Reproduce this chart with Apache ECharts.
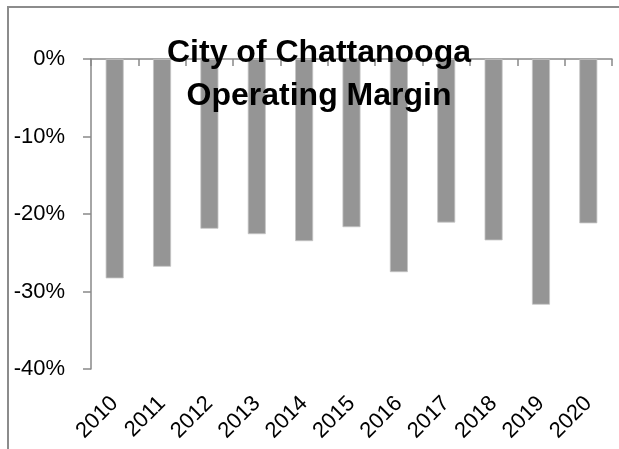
<!DOCTYPE html>
<html>
<head>
<meta charset="utf-8">
<script src="https://cdn.jsdelivr.net/npm/echarts@6/dist/echarts.min.js"></script>
<style>
  html, body { margin: 0; padding: 0; background: #fff; }
  #chart { width: 619px; height: 449px; }
</style>
</head>
<body>
<div id="chart"></div>
<script>
  // years on the x axis
  var years = ['2010', '2011', '2012', '2013', '2014', '2015', '2016', '2017', '2018', '2019', '2020'];
  // operating margin, percent
  var margin = [-28.3, -26.8, -21.9, -22.6, -23.5, -21.7, -27.5, -21.1, -23.4, -31.7, -21.2];

  var axisGray = '#898989';
  var myChart = echarts.init(document.getElementById('chart'));
  var option = {
    backgroundColor: '#fff',
    animation: false,
    title: {
      text: 'City of Chattanooga\nOperating Margin',
      left: 314,
      top: 27,
      textAlign: 'center',
      textStyle: {
        fontFamily: 'Liberation Sans',
        fontWeight: 'bold',
        fontSize: 32,
        lineHeight: 43,
        color: '#000'
      }
    },
    graphic: [{
      // chart frame, only top and left edges visible
      type: 'rect',
      shape: { x: 8, y: 7, width: 700, height: 600 },
      style: { fill: 'none', stroke: '#8c8c8c', lineWidth: 2 },
      silent: true
    }],
    grid: { left: 91, right: 7, top: 59, bottom: 80 },
    xAxis: [{
      type: 'category',
      data: years,
      position: 'top',
      axisLine: { show: true, lineStyle: { color: axisGray, width: 1.5 } },
      axisTick: { show: true, inside: true, length: 7, lineStyle: { color: axisGray, width: 1.5 } },
      axisLabel: { show: false }
    }, {
      type: 'category',
      data: years,
      position: 'bottom',
      axisLine: { show: false },
      axisTick: { show: false },
      axisLabel: {
        rotate: 45,
        margin: 31,
        interval: 0,
        fontFamily: 'Liberation Sans',
        fontSize: 22,
        color: '#000'
      }
    }],
    yAxis: {
      type: 'value',
      min: -40,
      max: 0,
      interval: 10,
      axisLine: { show: true, lineStyle: { color: axisGray, width: 1.5 } },
      axisTick: { show: true, length: 8, lineStyle: { color: axisGray, width: 1.5 } },
      splitLine: { show: false },
      axisLabel: {
        formatter: '{value}%',
        margin: 26,
        fontFamily: 'Liberation Sans',
        fontSize: 22,
        color: '#000'
      }
    },
    series: [{
      type: 'bar',
      xAxisIndex: 0,
      data: margin,
      barWidth: 18,
      itemStyle: { color: '#959595', borderColor: '#c4c4c4', borderWidth: 0.8 }
    }]
  };
  myChart.setOption(option);
</script>
</body>
</html>
